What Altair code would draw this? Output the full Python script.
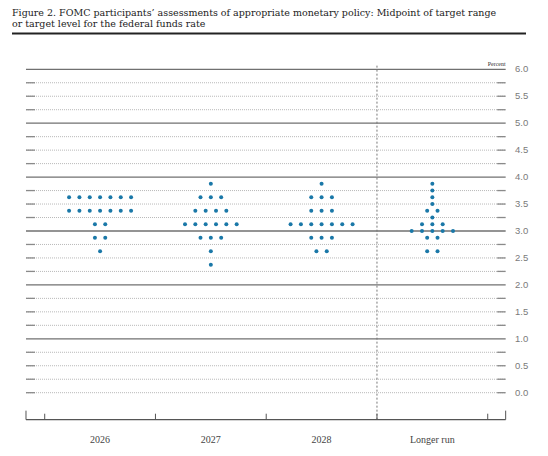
import altair as alt
import pandas as pd

# ---- data ----
categories = ["2026", "2027", "2028", "Longer run"]
dot_rates = [3.875, 3.75, 3.625, 3.5, 3.375, 3.25, 3.125, 3.0, 2.875, 2.625, 2.375]
counts_2026 = [0, 0, 7, 0, 7, 0, 2, 0, 2, 1, 0]
counts_2027 = [1, 0, 3, 0, 4, 0, 6, 0, 3, 1, 1]
counts_2028 = [1, 0, 3, 0, 3, 0, 7, 0, 3, 2, 0]
counts_longer = [1, 1, 1, 1, 2, 1, 3, 5, 2, 2, 0]
all_counts = [counts_2026, counts_2027, counts_2028, counts_longer]

y_labels = [0.0, 0.5, 1.0, 1.5, 2.0, 2.5, 3.0, 3.5, 4.0, 4.5, 5.0, 5.5, 6.0]
solid_levels = [1, 2, 3, 4, 5, 6]
dotted_levels = [v / 4 for v in range(0, 24) if v % 4 != 0 or v == 0]
boundaries = [0, 1, 2, 3, 4]

title_lines = [
    "Figure 2. FOMC participants\u2019 assessments of appropriate monetary policy: Midpoint of target range",
    "or target level for the federal funds rate",
]

# ---- layout helpers (scale units) ----
XL, XR = -0.169, 4.162      # plot frame ends
YB = -0.5                   # bottom axis level
DOT_GAP = 0.0933            # horizontal spacing of dots in a row

rows = []
for ci, (cat, counts) in enumerate(zip(categories, all_counts)):
    for rate, n in zip(dot_rates, counts):
        for j in range(n):
            rows.append({"cat": cat, "rate": rate,
                         "x": ci + 0.5 + (j - (n - 1) / 2) * DOT_GAP})
dots = pd.DataFrame(rows)

xs = alt.Scale(domain=[-0.3314, 4.472])
ys = alt.Scale(domain=[-1.026, 7.137])
X = lambda f: alt.X(f, type="quantitative", scale=xs, axis=None)
Y = lambda f: alt.Y(f, type="quantitative", scale=ys, axis=None)

solid = alt.Chart(pd.DataFrame({"y": solid_levels, "x0": XL, "x1": XR})).mark_rule(
    color="#707070", strokeWidth=1.3).encode(x=X("x0"), x2="x1", y=Y("y"))

dotted = alt.Chart(pd.DataFrame({"y": dotted_levels, "x0": XL, "x1": XR})).mark_rule(
    color="#b8b8b8", strokeWidth=1, strokeDash=[1, 1]).encode(x=X("x0"), x2="x1", y=Y("y"))

ends_df = pd.DataFrame({"y": dotted_levels * 2,
                        "x0": [XL] * len(dotted_levels) + [XR - 0.077] * len(dotted_levels),
                        "x1": [XL + 0.081] * len(dotted_levels) + [XR] * len(dotted_levels)})
ends = alt.Chart(ends_df).mark_rule(color="#8a8a8a", strokeWidth=1.3).encode(
    x=X("x0"), x2="x1", y=Y("y"))

vline = alt.Chart(pd.DataFrame({"x": [3], "y0": [YB], "y1": [6.08]})).mark_rule(
    color="#777", strokeWidth=1, strokeDash=[2, 2]).encode(x=X("x"), y=Y("y0"), y2="y1")

base = alt.Chart(pd.DataFrame({"y": [YB], "x0": [XL], "x1": [XR]})).mark_rule(
    color="#555", strokeWidth=1.3).encode(x=X("x0"), x2="x1", y=Y("y"))

frame_ticks = alt.Chart(pd.DataFrame({"x": [XL, XR], "y0": YB, "y1": YB + 0.167})).mark_rule(
    color="#555", strokeWidth=1).encode(x=X("x"), y=Y("y0"), y2="y1")

cat_ticks = alt.Chart(pd.DataFrame({"x": boundaries, "y0": YB, "y1": YB + 0.11})).mark_rule(
    color="#555", strokeWidth=1).encode(x=X("x"), y=Y("y0"), y2="y1")

cat_labels = alt.Chart(pd.DataFrame({"x": [i + 0.5 for i in range(4)], "y": -0.884,
                                     "t": categories})).mark_text(
    font="Liberation Serif", fontSize=10, color="#444", baseline="middle").encode(
    x=X("x"), y=Y("y"), text="t:N")

ylab = alt.Chart(pd.DataFrame({"y": y_labels, "x": 4.246})).mark_text(
    font="Liberation Sans", fontSize=9.5, color="#7a7a7a", align="left", baseline="middle").encode(
    x=X("x"), y=Y("y"), text=alt.Text("y:Q", format=".1f"))

percent = alt.Chart(pd.DataFrame({"x": [XR], "y": [6.0], "t": ["Percent"]})).mark_text(
    font="Liberation Serif", fontSize=6, color="#333", align="right", baseline="bottom", dy=-2).encode(
    x=X("x"), y=Y("y"), text="t:N")

points = alt.Chart(dots).mark_circle(size=16, color="#1a78a8", opacity=1).encode(
    x=X("x"), y=Y("rate"))

title = alt.Chart(pd.DataFrame({"t": title_lines, "yy": [8, 18.5]})).mark_text(
    font="DejaVu Serif", fontSize=9.5, color="#222", align="left", baseline="alphabetic").encode(
    x=alt.value(4),
    y=alt.Y("yy:Q", scale=alt.Scale(domain=[0, 440], range=[0, 440]), axis=None),
    text="t:N")

title_rule = alt.Chart(pd.DataFrame({"a": [0]})).mark_rule(color="#222", strokeWidth=1.8).encode(
    x=alt.value(4), x2=alt.value(518), y=alt.value(25.5))

chart = alt.layer(
    dotted, ends, solid, vline, base, frame_ticks, cat_ticks, cat_labels, ylab, percent, points,
).resolve_scale(y="shared")

full = alt.layer(chart, title, title_rule).resolve_scale(y="independent").properties(
    width=532, height=440, padding=0, autosize=alt.AutoSizeParams(type="none")
).configure_view(stroke=None)

full.save("out.html", embed_options={"renderer": "svg", "actions": False})
